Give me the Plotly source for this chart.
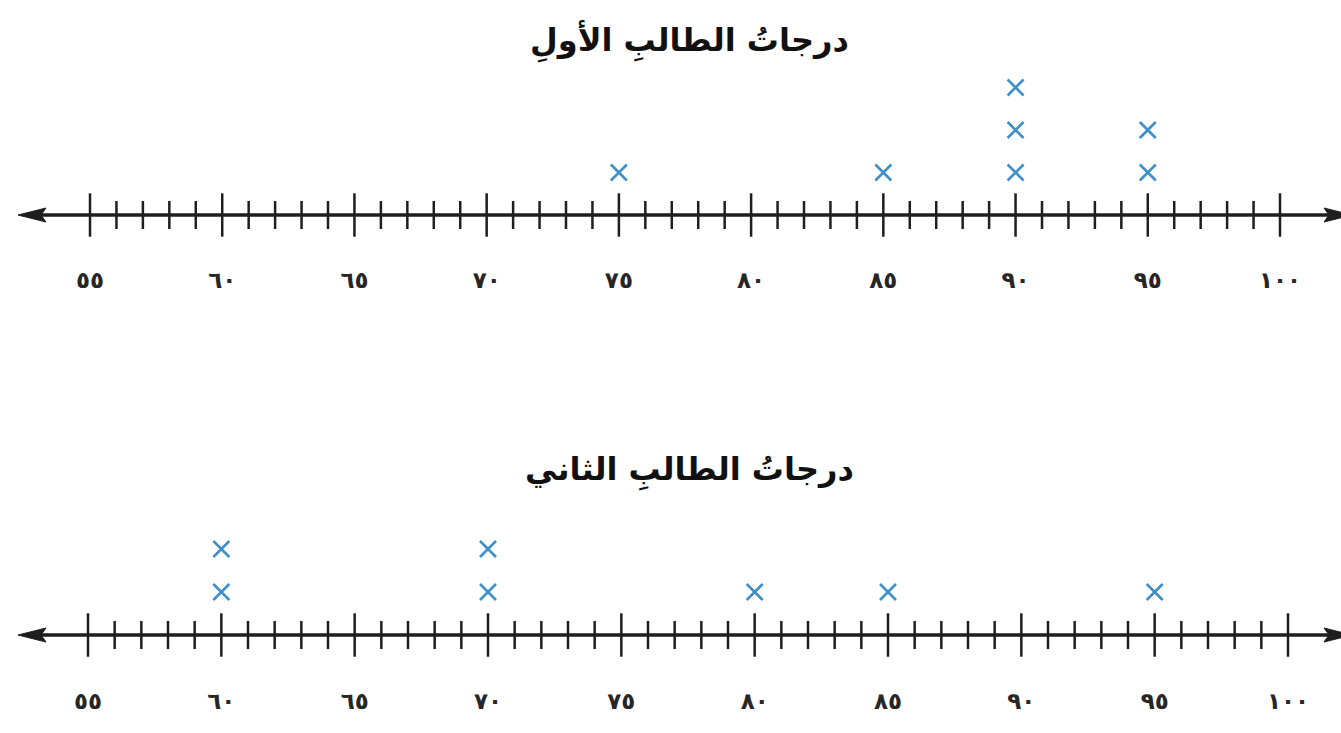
import plotly.graph_objects as go
from collections import Counter

# ---- data ----
titles = ["درجاتُ الطالبِ الأولِ", "درجاتُ الطالبِ الثاني"]
student1_scores = [75, 85, 90, 90, 90, 95, 95]
student2_scores = [60, 60, 70, 70, 80, 85, 95]
major_ticks = [55, 60, 65, 70, 75, 80, 85, 90, 95, 100]
tick_labels = ["٥٥", "٦٠", "٦٥", "٧٠", "٧٥", "٨٠", "٨٥", "٩٠", "٩٥", "١٠٠"]
minor_ticks = [v for v in range(55, 101) if v % 5 != 0]

W, H = 1341, 733
MARK_COLOR = "#3f8fc9"
INK = "#1e1e1e"

panels = [
    dict(scores=student1_scores, x55=90, x100=1280, yaxis=215, top=60, bottom=264, title_y=42, unit=42.5),
    dict(scores=student2_scores, x55=88, x100=1288, yaxis=635, top=500, bottom=685, title_y=470, unit=43),
]

fig = go.Figure()
layout = dict(width=W, height=H, margin=dict(l=0, r=0, t=0, b=0),
              paper_bgcolor="white", plot_bgcolor="white", showlegend=False)
annotations = []
shapes = []

for i, (p, title) in enumerate(zip(panels, titles)):
    n = "" if i == 0 else str(i + 1)
    xa, ya = "x" + n, "y" + n
    ppu = (p["x100"] - p["x55"]) / 45.0
    x0 = 55 - p["x55"] / ppu
    x1 = x0 + W / ppu
    ymin = -(p["bottom"] - p["yaxis"]) / p["unit"]
    ymax = ymin + (p["bottom"] - p["top"]) / p["unit"]

    layout["xaxis" + n] = dict(domain=[0, 1], range=[x0, x1], anchor=ya,
                               showgrid=False, zeroline=False, showline=False,
                               ticks="", tickvals=major_ticks, ticktext=tick_labels,
                               tickfont=dict(family="DejaVu Sans", size=23, color="#262626", weight="bold"),
                               ticklabelstandoff=0)
    layout["yaxis" + n] = dict(domain=[1 - p["bottom"] / H, 1 - p["top"] / H], range=[ymin, ymax],
                               anchor=xa, visible=False, showgrid=False, zeroline=False)

    # number line
    left_tip = x0 + 18 / ppu
    right_tip = x0 + 1352 / ppu
    shapes.append(dict(type="line", xref=xa, yref=ya, x0=left_tip + 20 / ppu, x1=right_tip - 20 / ppu,
                       y0=0, y1=0, line=dict(color=INK, width=3.5), layer="below"))
    # arrowheads (pixel-sized, anchored at the line ends)
    for tip, d in ((left_tip, 1), (right_tip, -1)):
        path = f"M0,0 L{28*d},-7 L{23*d},0 L{28*d},7 Z"
        shapes.append(dict(type="path", xref=xa, yref=ya, xsizemode="pixel", ysizemode="pixel",
                           xanchor=tip, yanchor=0, path=path,
                           fillcolor=INK, line=dict(color=INK, width=1)))

    # ticks
    fig.add_trace(go.Scatter(x=major_ticks, y=[0] * len(major_ticks), xaxis=xa, yaxis=ya,
                             mode="markers", hoverinfo="skip",
                             marker=dict(symbol="line-ns", size=31, line=dict(width=2.5, color=INK))))
    fig.add_trace(go.Scatter(x=minor_ticks, y=[0] * len(minor_ticks), xaxis=xa, yaxis=ya,
                             mode="markers", hoverinfo="skip",
                             marker=dict(symbol="line-ns", size=20, line=dict(width=2.5, color=INK))))

    # X marks stacked
    seen = Counter()
    xs, ys = [], []
    for s in p["scores"]:
        seen[s] += 1
        xs.append(s)
        ys.append(seen[s])
    fig.add_trace(go.Scatter(x=xs, y=ys, xaxis=xa, yaxis=ya, mode="markers",
                             marker=dict(symbol="x-thin", size=16,
                                         line=dict(width=2.6, color=MARK_COLOR))))

    annotations.append(dict(text=title, x=689 / W, y=1 - p["title_y"] / H, xref="paper", yref="paper",
                            xanchor="center", yanchor="middle", showarrow=False,
                            font=dict(family="DejaVu Sans", size=32, color="#111111", weight="bold")))

layout["annotations"] = annotations
layout["shapes"] = shapes
fig.update_layout(**layout)
fig.write_html("out.html", config={"displayModeBar": False},
               post_script="document.body.style.margin='0';")
